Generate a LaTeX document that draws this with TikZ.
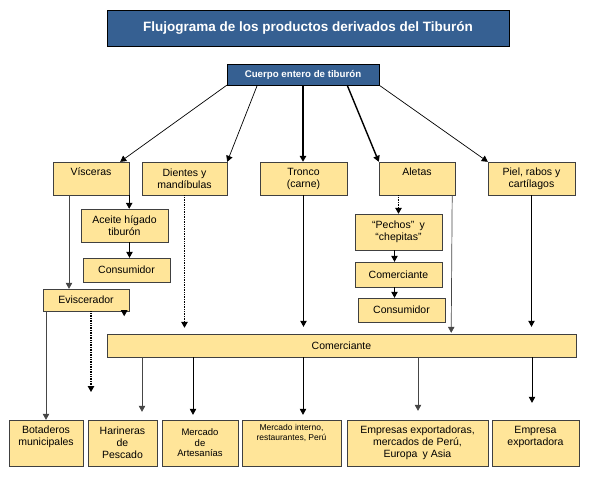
\documentclass[tikz,border=0pt]{standalone}
\usepackage{fontspec}
\setmainfont{Liberation Sans}
\usepackage{tikz}
\usetikzlibrary{
    arrows.meta,
    positioning,
    calc
}
\definecolor{titleblue}{RGB}{54,96,146}
\definecolor{boxyellow}{RGB}{255,229,153}
\definecolor{darkgray}{RGB}{64,64,64}
\definecolor{linegray}{RGB}{70,70,70}

\begin{document}
\begin{tikzpicture}[
    x=1pt, y=-1pt,
    size/.style 2 args={minimum width=#1, minimum height=#2},
    head/.style={
        rectangle, draw=black, fill=titleblue, text=white,
        inner sep=0pt
    },
    part/.style={
        rectangle, draw=darkgray, fill=boxyellow, inner sep=0pt,
        align=center, font=\fontsize{10.5}{12}\selectfont
    },
    arrow/.style={-{Triangle[length=6pt, width=6.5pt]}, black, line width=0.7pt},
    dots/.style={arrow, densely dotted, line width=1.2pt}
]
\useasboundingbox (0,0) rectangle (595,479);

% Title
\node[head, size={402}{36}, font=\fontsize{13.5}{15}\selectfont\bfseries] (title) at (308,28) {Flujograma de los productos derivados del Tiburón};
\node[head, size={152}{21}, font=\fontsize{9.7}{11}\selectfont\bfseries] (cuerpo) at (303,74.5) {Cuerpo entero de tiburón};

% Parts of the shark
\node[part, size={76}{33}] (visc)   at (91,178.5)    {Vísceras\\\phantom{y}};
\node[part, size={85}{33}] (dient)  at (184.5,178.5) {Dientes y\\mandíbulas};
\node[part, size={87}{33}] (tronco) at (303.5,178.5) {Tronco\\(carne)};
\node[part, size={76}{33}] (aletas) at (417,178.5)   {Aletas\\\phantom{y}};
\node[part, size={87}{33}] (piel)   at (531.5,178.5) {Piel, rabos y\\cartílagos};

% Visceras branch
\node[part, size={87}{33}] (aceite) at (124.5,225.5) {Aceite hígado\\tiburón};
\node[part, size={87}{24}] (consL)  at (126.5,270)   {Consumidor};
\node[part, size={86}{22}] (evisc)  at (86,300)      {Eviscerador};

% Aletas branch
\node[part, size={87}{36}] (pechos) at (398.5,232)   {“Pechos”\enspace y\\“chepitas”};
\node[part, size={87}{25}] (comerS) at (398.5,274.5) {Comerciante};
\node[part, size={87}{24}] (consR)  at (401.5,310)   {Consumidor};

% Main trader
\node[part, size={469}{23}] (comerB) at (341.5,345.5) {Comerciante};

% End markets
\node[part, size={74}{46}]  (bota)  at (46,443)    {Botaderos\\municipales\\\phantom{y}};
\node[part, size={69}{46}]  (harin) at (122.5,443) {Harineras\\de\\Pescado};
\node[part, size={76}{46}, font=\fontsize{9.5}{10.5}\selectfont] (artes) at (200,443) {Mercado\\de\\Artesanías};
\node[part, size={99}{46}, font=\fontsize{8.5}{10}\selectfont]   (merc)  at (291.5,443) {Mercado interno,\\restaurantes, Perú\\\phantom{y}\\[2pt]};
\node[part, size={141}{46}] (empr)  at (417.5,443) {Empresas exportadoras,\\mercados de Perú,\\Europa\enspace y Asia};
\node[part, size={87}{46}]  (empx)  at (535.5,443) {Empresa\\exportadora\\\phantom{y}};

% Arrows from the whole body
\draw[arrow] (cuerpo.south west) -- ($(visc.north east)+(-9,0)$);
\draw[arrow] ($(cuerpo.south west)!0.2!(cuerpo.south east)$) -- (dient.north east);
\draw[arrow, line width=1.4pt] (cuerpo.south) -- (cuerpo.south |- tronco.north);
\draw[arrow, line width=1.4pt] ($(cuerpo.south west)!0.79!(cuerpo.south east)$) -- (aletas.north west);
\draw[arrow] (cuerpo.south east) -- (piel.north west);

% Visceras
\draw[arrow] (visc.south east) -- (visc.south east |- aceite.north);
\draw[arrow] ($(aceite.south)+(5,0)$) -- ($(consL.north)+(3,0)$);
\draw[arrow, linegray] ($(visc.south)+(-22,0)$) -- ($(evisc.north)+(-17,0)$);

% Eviscerador
\coordinate (harinaend) at (91,392);
\draw[arrow, linegray] (bota.north |- evisc.south) -- (bota.north);
\draw[dots] (harinaend |- evisc.south) -- (harinaend);
\draw[arrow] ($(evisc.south east)+(-5,0)$) -- ++(0,5);

% Dientes
\draw[dots] (dient.south) -- ($(dient.south |- comerB.north)+(0,-6)$);

% Tronco, Aletas, Piel to trader
\draw[arrow] (tronco.south) -- ($(tronco.south |- comerB.north)+(0,-7)$);
\draw[arrow, linegray] ($(aletas.south east)+(-3,0)$) -- ($(aletas.south east |- comerB.north)+(-4,-1)$);
\draw[arrow] (piel.south) -- ($(piel.south |- comerB.north)+(0,-7)$);

% Aletas
\draw[dots] (pechos.north |- aletas.south) -- (pechos.north);
\draw[arrow] ($(pechos.south)+(-4,0)$) -- ($(comerS.north)+(-4,0)$);
\draw[arrow] ($(comerS.south)+(-4,0)$) -- ($(consR.north)+(-7,0)$);

% Trader to markets
\foreach \x/\t/\g/\c in {142/harin/8pt/linegray, 193/artes/5pt/black, 303/merc/5pt/black, 418/empr/9pt/linegray, 532/empx/17pt/black} {
    \draw[arrow, \c, shorten >=\g] (\x,0 |- comerB.south) -- (\x,0 |- \t.north);
}

\end{tikzpicture}
\end{document}
